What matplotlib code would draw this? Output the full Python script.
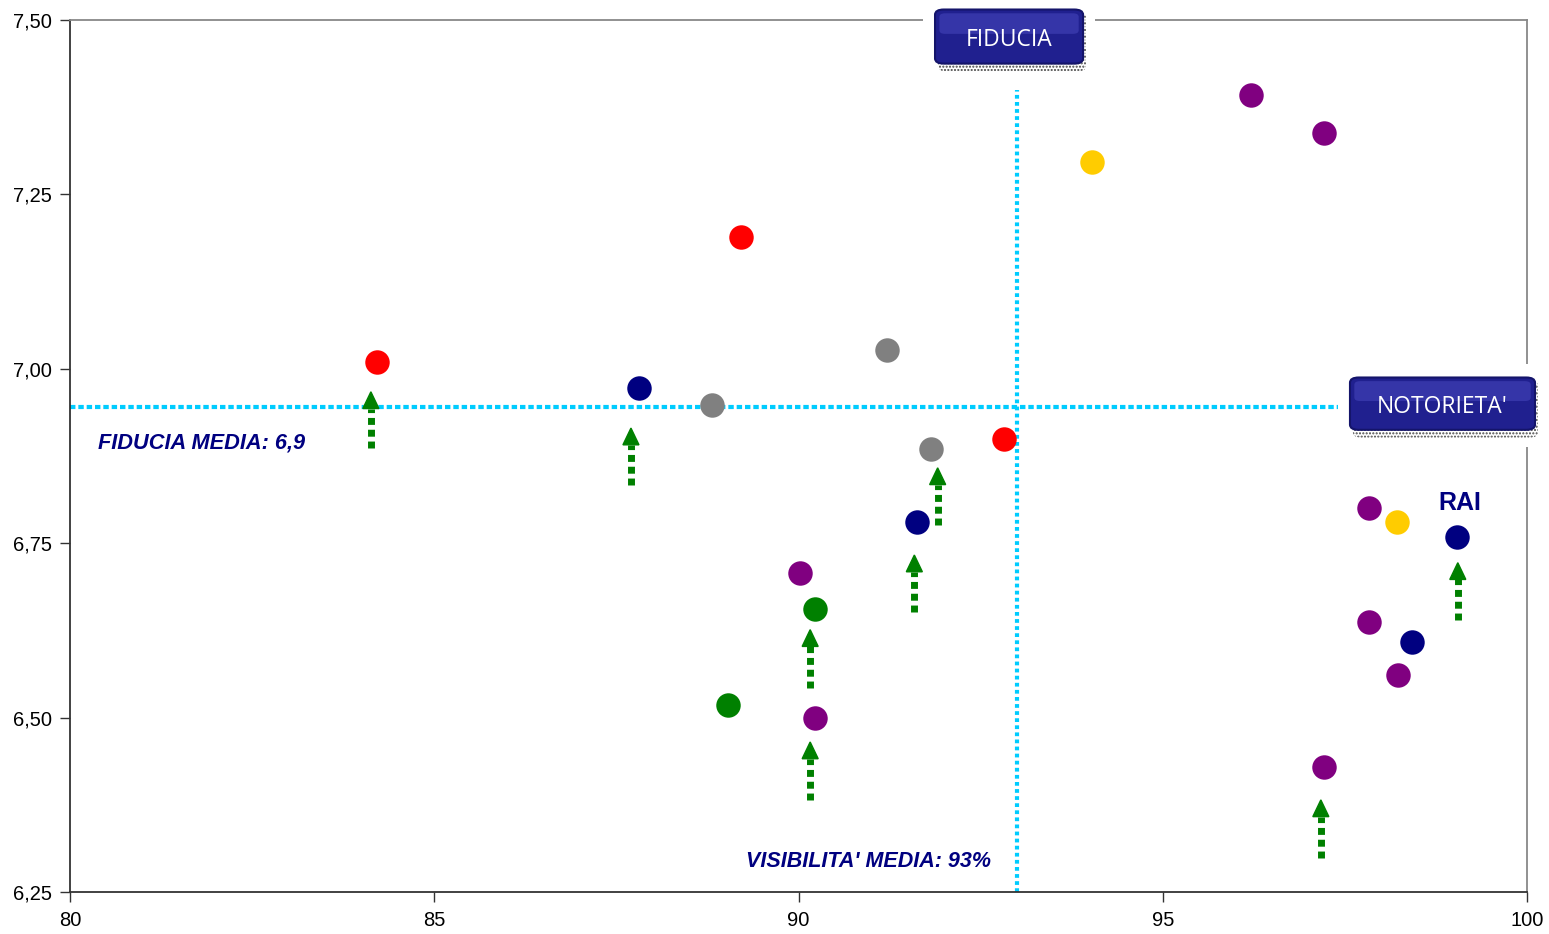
import matplotlib.pyplot as plt
from matplotlib.patches import FancyBboxPatch, Polygon, Rectangle
from matplotlib.ticker import FuncFormatter

plt.rcParams['font.family'] = ['Liberation Sans', 'DejaVu Sans']

# punti: visibilità (%) e fiducia media
vis_red = [84.21, 89.21, 92.82]
fid_red = [7.010, 7.189, 6.900]
vis_navy = [87.81, 91.63, 98.42, 99.04]
fid_navy = [6.972, 6.780, 6.608, 6.759]
vis_gray = [88.81, 91.21, 91.82]
fid_gray = [6.948, 7.027, 6.885]
vis_purple = [90.02, 90.23, 96.21, 97.21, 97.83, 97.83, 98.23, 97.21]
fid_purple = [6.707, 6.499, 7.392, 7.338, 6.800, 6.637, 6.561, 6.429]
vis_green = [90.23, 89.03]
fid_green = [6.656, 6.518]
vis_yellow = [94.03, 98.22]
fid_yellow = [7.296, 6.780]

# frecce di crescita: x, base, punta
arr_x = [84.13, 87.70, 91.91, 91.59, 90.16, 90.16, 97.17, 99.05]
arr_base = [6.887, 6.833, 6.776, 6.651, 6.542, 6.382, 6.299, 6.640]
arr_tip = [6.967, 6.915, 6.858, 6.733, 6.626, 6.465, 6.382, 6.722]

vis_media = 93.0
fid_media = 6.945

fig = plt.figure(figsize=(15.49, 9.34), dpi=100)
ax = fig.add_axes([0.0452, 0.045, 0.9406, 0.9336])
ax.set_xlim(80, 100)
ax.set_ylim(6.25, 7.5)
ax.set_xticks([80, 85, 90, 95, 100])
ax.set_yticks([6.25, 6.5, 6.75, 7.0, 7.25, 7.5])
ax.yaxis.set_major_formatter(FuncFormatter(lambda v, p: f"{v:.2f}".replace('.', ',')))
ax.tick_params(direction='out', length=7, width=1, labelsize=14.5, color='#333333')
ax.tick_params(axis='x', pad=7)
ax.tick_params(axis='y', pad=6)
for s in ['left', 'bottom']:
    ax.spines[s].set_color('#333333')
    ax.spines[s].set_linewidth(1.3)
for s in ['top', 'right']:
    ax.spines[s].set_color('#888888')
    ax.spines[s].set_linewidth(1.3)

# linee medie
ax.plot([80, 97.57], [fid_media, fid_media], color='#00CCFF', lw=3,
        linestyle=(0, (1.3, 0.7)), zorder=2)
ax.plot([vis_media, vis_media], [6.25, 7.40], color='#00CCFF', lw=3,
        linestyle=(0, (0.9, 0.8)), zorder=2)

groups = [(vis_red, fid_red, '#FF0000'), (vis_navy, fid_navy, '#000080'),
          (vis_gray, fid_gray, '#808080'), (vis_purple, fid_purple, '#800080'),
          (vis_green, fid_green, '#008000'), (vis_yellow, fid_yellow, '#FFCC00')]
for xs, ys, c in groups:
    ax.scatter(xs, ys, s=310, color=c, zorder=4, linewidths=0)

# frecce verdi tratteggiate
hh = 0.024
hw = 0.11
for x, b, t in zip(arr_x, arr_base, arr_tip):
    ax.plot([x, x], [b, t - hh], color='#008000', lw=5,
            linestyle=(0, (1, 0.7)), solid_capstyle='butt', zorder=3)
    ax.add_patch(Polygon([(x - hw, t - hh), (x + hw, t - hh), (x, t)],
                         closed=True, color='#008000', zorder=3))

ax.text(80.38, 6.893, "FIDUCIA MEDIA: 6,9", color='#000080', fontsize=15.7,
        fontweight='bold', style='italic', va='center', ha='left')
ax.text(89.28, 6.294, "VISIBILITA' MEDIA: 93%", color='#000080', fontsize=15.5,
        fontweight='bold', style='italic', va='center', ha='left')
ax.text(99.08, 6.808, "RAI", color='#000080', fontsize=18, fontweight='bold',
        va='center', ha='center')


def label_box(x0, y0, w, h, text):
    ax.add_patch(Rectangle((x0 - 0.008, y0 - 0.02), w + 0.016, h + 0.035,
                           transform=ax.transAxes, facecolor='white',
                           edgecolor='none', clip_on=False, zorder=5))
    ax.add_patch(FancyBboxPatch((x0 + 0.002, y0 - 0.009), w, h + 0.006,
                                boxstyle="round,pad=0,rounding_size=0.006",
                                transform=ax.transAxes, facecolor='none',
                                edgecolor='#444444', hatch='.....', lw=0,
                                clip_on=False, zorder=6))
    ax.add_patch(FancyBboxPatch((x0, y0), w, h,
                                boxstyle="round,pad=0,rounding_size=0.006",
                                transform=ax.transAxes, facecolor='#20208F',
                                edgecolor='#14146A', lw=1.5, clip_on=False,
                                zorder=7))
    ax.add_patch(FancyBboxPatch((x0 + 0.003, y0 + h * 0.55), w - 0.006, h * 0.38,
                                boxstyle="round,pad=0,rounding_size=0.004",
                                transform=ax.transAxes, facecolor='#5050C8',
                                edgecolor='none', alpha=0.45, clip_on=False,
                                zorder=7))
    ax.text(x0 + w / 2, y0 + h / 2 - 0.004, text, transform=ax.transAxes,
            color='white', fontsize=16.5, family='Open Sans', ha='center',
            va='center', zorder=8)


label_box(0.5937, 0.950, 0.1016, 0.062, "FIDUCIA")
label_box(0.8785, 0.530, 0.1270, 0.060, "NOTORIETA'")

fig.savefig('out.png', dpi=100)
